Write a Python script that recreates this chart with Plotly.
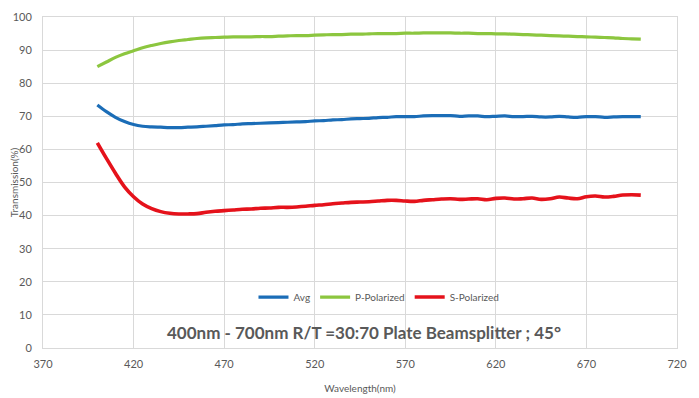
import plotly.graph_objects as go

wavelength = list(range(400, 701, 5))

avg = [73.4, 71.4, 69.7, 68.4, 67.5, 67.0, 66.8, 66.7, 66.6, 66.6,
       66.7, 66.8, 67.0, 67.2, 67.4, 67.5, 67.7, 67.8, 67.9, 68.0,
       68.1, 68.2, 68.3, 68.4, 68.6, 68.7, 68.9, 69.0, 69.2, 69.3,
       69.4, 69.6, 69.7, 69.9, 69.9, 69.9, 70.1, 70.2, 70.2, 70.2,
       70.0, 70.1, 70.1, 69.9, 70.0, 70.1, 69.9, 69.9, 70.0, 69.8,
       69.8, 70.0, 69.8, 69.7, 69.9, 69.9, 69.7, 69.8, 69.9, 69.9,
       69.9]

p_pol = [85.0, 86.4, 87.8, 88.9, 89.8, 90.7, 91.4, 92.0, 92.5, 92.9,
         93.2, 93.5, 93.7, 93.8, 93.9, 94.0, 94.0, 94.0, 94.1, 94.1,
         94.2, 94.3, 94.4, 94.4, 94.5, 94.6, 94.7, 94.7, 94.8, 94.8,
         94.9, 95.0, 95.0, 95.0, 95.1, 95.1, 95.2, 95.2, 95.2, 95.2,
         95.1, 95.1, 95.0, 95.0, 94.9, 94.9, 94.8, 94.7, 94.6, 94.5,
         94.4, 94.3, 94.2, 94.1, 94.0, 93.9, 93.8, 93.7, 93.5, 93.4,
         93.3]

s_pol = [62.0, 57.3, 52.8, 48.7, 45.7, 43.5, 42.1, 41.2, 40.7, 40.5,
         40.5, 40.6, 41.0, 41.3, 41.5, 41.7, 41.9, 42.0, 42.2, 42.3,
         42.5, 42.5, 42.6, 42.8, 43.1, 43.3, 43.6, 43.8, 44.0, 44.1,
         44.2, 44.4, 44.6, 44.6, 44.4, 44.3, 44.6, 44.8, 45.0, 45.1,
         44.9, 45.0, 45.1, 44.8, 45.2, 45.3, 45.0, 45.1, 45.3, 44.9,
         45.1, 45.6, 45.3, 45.1, 45.7, 45.9, 45.6, 45.8, 46.2, 46.3,
         46.2]

series_names = ["Avg", "P-Polarized", "S-Polarized"]
series_colors = ["#1b6db7", "#8cc63f", "#e5121b"]
series_widths = [3.2, 3.2, 3.6]
series_values = [avg, p_pol, s_pol]

x_ticks = [370, 420, 470, 520, 570, 620, 670, 720]
y_ticks = [0, 10, 20, 30, 40, 50, 60, 70, 80, 90, 100]

title_text = "400nm - 700nm R/T =30:70 Plate Beamsplitter ; 45°"

fig = go.Figure()
for name, color, w, vals in zip(series_names, series_colors, series_widths, series_values):
    fig.add_trace(go.Scatter(
        x=wavelength, y=vals, name=name, mode="lines",
        line=dict(color=color, width=w, shape="spline", smoothing=1.0),
    ))

grey = "#595959"
fig.update_layout(
    width=691, height=390,
    margin=dict(l=35, r=22, t=9, b=50),
    paper_bgcolor="white", plot_bgcolor="white",
    font=dict(family="Lato, Open Sans, sans-serif", size=11, color=grey),
    showlegend=True,
    legend=dict(orientation="h", x=0.332, y=0.154, xanchor="left", yanchor="middle",
                bgcolor="rgba(0,0,0,0)", font=dict(size=10, color=grey),
                itemwidth=30, tracegroupgap=0),
    xaxis=dict(range=[370, 720], tickvals=x_ticks, showgrid=True, gridcolor="#d9d9d9",
               gridwidth=1, showline=True, mirror=True, linecolor="#d9d9d9", linewidth=1,
               zeroline=False, ticks="", tickfont=dict(size=11, color=grey),
               automargin=False, ticklabelstandoff=6,
               title=dict(text="Wavelength(nm)", font=dict(size=10, color=grey), standoff=15)),
    yaxis=dict(range=[0, 100], tickvals=y_ticks, showgrid=True, gridcolor="#d9d9d9",
               gridwidth=1, showline=True, mirror=True, linecolor="#d9d9d9", linewidth=1,
               zeroline=False, ticks="", tickfont=dict(size=11, color=grey),
               automargin=False, ticklabelstandoff=8,
               title=dict(text="Transmission(%)", font=dict(size=10, color=grey), standoff=9)),
    annotations=[dict(text="<b>" + title_text + "</b>", x=0.507, y=0.048, xref="paper", yref="paper",
                      xanchor="center", yanchor="middle", showarrow=False,
                      font=dict(size=17, color=grey, family="Lato, Open Sans, sans-serif"))],
)

fig.write_html("out.html")
